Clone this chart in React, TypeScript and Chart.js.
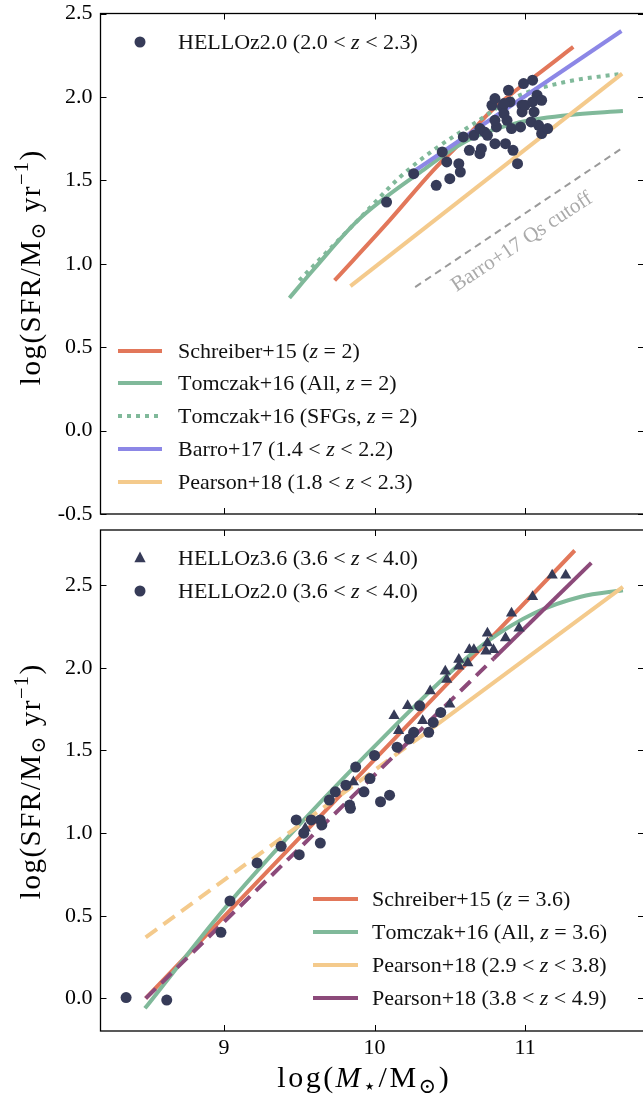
import React, { useEffect, useRef } from "react";
import { Chart, registerables } from "chart.js";
Chart.register(...registerables);

const SERIF = '"Liberation Serif", "DejaVu Serif", serif';
const C_ORANGE = "#E2775A";
const C_GREEN = "#80B99A";
const C_BLUE = "#8C87E6";
const C_YELLOW = "#F4CA8C";
const C_PURPLE = "#8C4A7A";
const C_DOT = "#363B58";
const C_GRAY = "#9a9a9a";

// ---- axes ----
const xMin = 8.18;
const xMax = 11.79;
const xTickValues = [9, 10, 11];
const topYMin = -0.5;
const topYMax = 2.5;
const topYTickValues = [-0.5, 0, 0.5, 1, 1.5, 2, 2.5];
const botYMin = -0.197;
const botYMax = 2.834;
const botYTickValues = [0, 0.5, 1, 1.5, 2, 2.5];

// ---- top panel (z~2) ----
const topDotsX = [10.08, 10.26, 10.41, 10.5, 10.48, 10.45, 10.57, 10.56, 10.59, 10.63, 10.66, 10.7, 10.71, 10.7, 10.73, 10.75, 10.8, 10.81, 10.8, 10.78, 10.8, 10.85, 10.86, 10.88, 10.87, 10.92, 10.89, 10.9, 10.91, 10.95, 10.97, 10.98, 10.99, 11.05, 10.98, 11.0, 11.04, 11.06, 11.05, 11.08, 11.11, 11.09, 11.11, 11.15, 10.86];
const topDotsY = [1.37, 1.54, 1.47, 1.51, 1.61, 1.67, 1.55, 1.6, 1.76, 1.68, 1.77, 1.66, 1.69, 1.81, 1.79, 1.77, 1.72, 1.82, 1.86, 1.95, 1.99, 1.94, 1.9, 1.86, 1.72, 1.68, 2.04, 1.97, 1.81, 1.6, 1.82, 1.95, 2.08, 2.1, 1.91, 1.95, 1.85, 1.91, 1.97, 2.01, 1.98, 1.83, 1.78, 1.81, 1.96];

const schreiber2X = [9.735, 10.1, 10.39, 10.61, 10.78, 10.94, 11.09, 11.32];
const schreiber2Y = [0.9, 1.26, 1.56, 1.76, 1.92, 2.04, 2.14, 2.3];
const tomczakAll2X = [9.435, 9.6, 9.89, 10.29, 10.62, 10.93, 11.28, 11.65];
const tomczakAll2Y = [0.795, 0.97, 1.26, 1.54, 1.74, 1.84, 1.89, 1.915];
const tomczakSfg2X = [9.5, 9.91, 10.17, 10.39, 10.66, 10.94, 11.27, 11.65];
const tomczakSfg2Y = [0.9, 1.28, 1.52, 1.68, 1.84, 2.0, 2.09, 2.14];
const barro2X = [10.265, 11.64];
const barro2Y = [1.556, 2.395];
const pearson2X = [9.84, 11.645];
const pearson2Y = [0.866, 2.14];
const cutoffX = [10.27, 11.64];
const cutoffY = [0.86, 1.69];

// ---- bottom panel (z~3.6) ----
const triX = [11.18, 11.27, 11.05, 10.91, 10.75, 10.87, 10.96, 10.63, 10.66, 10.75, 10.74, 10.79, 10.56, 10.62, 10.56, 10.47, 10.48, 10.37, 10.22, 10.13, 10.16, 10.32, 10.5, 9.54, 9.86];
const triY = [2.56, 2.56, 2.43, 2.33, 2.21, 2.18, 2.24, 2.11, 2.11, 2.15, 2.1, 2.11, 2.05, 2.03, 2.01, 1.98, 1.93, 1.86, 1.77, 1.71, 1.62, 1.68, 1.78, 1.03, 1.31];
const cirX = [9.04, 9.22, 9.38, 9.5, 9.48, 9.53, 9.58, 9.64, 9.65, 9.64, 9.7, 9.74, 9.81, 9.875, 9.835, 9.84, 9.93, 9.97, 10.0, 10.04, 10.1, 10.15, 10.3, 10.44, 10.39, 10.36, 10.26, 10.23, 8.35, 8.62, 8.98];
const cirY = [0.59, 0.82, 0.92, 0.87, 1.08, 1.0, 1.08, 1.08, 1.05, 0.94, 1.2, 1.25, 1.29, 1.4, 1.17, 1.15, 1.25, 1.33, 1.47, 1.19, 1.23, 1.52, 1.77, 1.73, 1.67, 1.61, 1.61, 1.57, 0.005, -0.01, 0.4];

const schreiber36X = [8.48, 9.5, 10.5, 11.33];
const schreiber36Y = [0.0, 0.97, 1.92, 2.71];
const tomczak36X = [8.475, 9.0, 9.5, 10.13, 10.5, 10.75, 11.06, 11.37, 11.65];
const tomczak36Y = [-0.06, 0.54, 1.05, 1.644, 1.97, 2.16, 2.33, 2.43, 2.47];
const pearsonA36DashX = [8.48, 10.3];
const pearsonA36DashY = [0.37, 1.58];
const pearsonA36X = [10.3, 11.65];
const pearsonA36Y = [1.58, 2.49];
const pearsonB36DashX = [8.48, 10.79];
const pearsonB36DashY = [0.0, 2.055];
const pearsonB36X = [10.79, 11.44];
const pearsonB36Y = [2.055, 2.635];

type Seg = { t: string; it?: boolean; sub?: boolean; sup?: boolean };

const pts = (xs: number[], ys: number[]) => xs.map((x, i) => ({ x, y: ys[i] }));

function fontStr(size: number, it?: boolean) {
  return `${it ? "italic " : ""}${size}px ${SERIF}`;
}

function richWidth(ctx: CanvasRenderingContext2D, segs: Seg[], size: number, ls = 0) {
  let w = 0;
  for (const s of segs) {
    const fs = s.sub || s.sup ? size * 0.7 : size;
    ctx.font = fontStr(fs, s.it);
    for (const ch of s.t) w += ctx.measureText(ch).width + ls;
  }
  return w - ls;
}

function drawRich(ctx: CanvasRenderingContext2D, x: number, yMid: number, segs: Seg[], size: number, color: string, align: "left" | "center" = "left", ls = 0) {
  ctx.save();
  ctx.fillStyle = color;
  ctx.textBaseline = "alphabetic";
  ctx.textAlign = "left";
  const w = richWidth(ctx, segs, size, ls);
  let cx = align === "center" ? x - w / 2 : x;
  const base = yMid + size * 0.33;
  for (const s of segs) {
    const fs = s.sub || s.sup ? size * 0.7 : size;
    ctx.font = fontStr(fs, s.it);
    const dy = s.sub ? size * 0.2 : s.sup ? -size * 0.4 : 0;
    for (const ch of s.t) {
      ctx.fillText(ch, cx, base + dy);
      cx += ctx.measureText(ch).width + ls;
    }
  }
  ctx.restore();
}

function drawMarker(ctx: CanvasRenderingContext2D, kind: "circle" | "triangle", x: number, y: number) {
  ctx.save();
  ctx.fillStyle = C_DOT;
  ctx.beginPath();
  if (kind === "circle") {
    ctx.arc(x, y, 5.5, 0, Math.PI * 2);
  } else {
    const r = 6.5;
    ctx.moveTo(x, y - r);
    ctx.lineTo(x + r * 0.866, y + r * 0.5 + 1);
    ctx.lineTo(x - r * 0.866, y + r * 0.5 + 1);
    ctx.closePath();
  }
  ctx.fill();
  ctx.restore();
}

function drawHandle(ctx: CanvasRenderingContext2D, x1: number, x2: number, y: number, color: string, dash: number[] = []) {
  ctx.save();
  ctx.strokeStyle = color;
  ctx.lineWidth = 4;
  ctx.lineCap = "butt";
  ctx.setLineDash(dash);
  ctx.beginPath();
  ctx.moveTo(x1, y);
  ctx.lineTo(x2, y);
  ctx.stroke();
  ctx.restore();
}

const ylabelSegs: Seg[] = [{ t: "log(SFR/M" }, { t: "⊙", sub: true }, { t: " yr" }, { t: "−1", sup: true }, { t: ")" }];
const xlabelSegs: Seg[] = [{ t: "log(" }, { t: "M", it: true }, { t: "⋆", sub: true }, { t: "/M" }, { t: "⊙", sub: true }, { t: ")" }];

function drawYLabel(ctx: CanvasRenderingContext2D, x: number, yMid: number) {
  ctx.save();
  ctx.translate(x, yMid);
  ctx.rotate(-Math.PI / 2);
  drawRich(ctx, 0, 0, ylabelSegs, 29, "#000", "center", 1.5);
  ctx.restore();
}

function framePlugin(yTicks: number[]) {
  return {
    id: "frame",
    afterDraw(chart: any) {
      const { ctx, chartArea: a } = chart;
      const xs = chart.scales.x;
      const ys = chart.scales.y;
      ctx.save();
      ctx.strokeStyle = "#000";
      ctx.lineWidth = 1.3;
      ctx.strokeRect(a.left, a.top, a.right - a.left, a.bottom - a.top);
      ctx.lineWidth = 1;
      ctx.beginPath();
      const L = 6;
      for (const v of xTickValues) {
        const p = Math.round(xs.getPixelForValue(v)) + 0.5;
        ctx.moveTo(p, a.bottom);
        ctx.lineTo(p, a.bottom - L);
        ctx.moveTo(p, a.top);
        ctx.lineTo(p, a.top + L);
      }
      for (const v of yTicks) {
        const p = Math.round(ys.getPixelForValue(v)) + 0.5;
        ctx.moveTo(a.left, p);
        ctx.lineTo(a.left + L, p);
        ctx.moveTo(a.right, p);
        ctx.lineTo(a.right - L, p);
      }
      ctx.stroke();
      ctx.restore();
    },
  };
}

function scales(yMin: number, yMax: number, yTicks: number[], showX: boolean, xHeight: number) {
  return {
    x: {
      type: "linear",
      min: xMin,
      max: xMax,
      afterBuildTicks: (s: any) => {
        s.ticks = xTickValues.map((v) => ({ value: v }));
      },
      afterFit: (s: any) => {
        s.height = xHeight;
        s.paddingLeft = 0;
        s.paddingRight = 0;
      },
      grid: { display: false, drawTicks: false },
      border: { display: false },
      ticks: {
        display: showX,
        padding: 4,
        color: "#000",
        font: { family: SERIF, size: 22 },
        callback: (v: any) => String(v),
      },
    },
    y: {
      type: "linear",
      min: yMin,
      max: yMax,
      afterBuildTicks: (s: any) => {
        s.ticks = yTicks.map((v) => ({ value: v }));
      },
      afterFit: (s: any) => {
        s.width = 100.5;
        s.paddingTop = 0;
        s.paddingBottom = 0;
      },
      grid: { display: false, drawTicks: false },
      border: { display: false },
      ticks: {
        padding: 8,
        color: "#000",
        font: { family: SERIF, size: 22 },
        callback: (v: any) => Number(v).toFixed(1),
      },
    },
  };
}

const lineDs = (xs: number[], ys: number[], color: string, order: number, extra: any = {}) => ({
  data: pts(xs, ys),
  showLine: true,
  borderColor: color,
  backgroundColor: color,
  borderWidth: 4,
  borderCapStyle: "butt",
  pointRadius: 0,
  pointHoverRadius: 0,
  fill: false,
  order,
  ...extra,
});

const curve = { cubicInterpolationMode: "monotone" };

function topConfig(): any {
  return {
    type: "scatter",
    data: {
      datasets: [
        { data: pts(topDotsX, topDotsY), pointStyle: "circle", pointRadius: 5.5, backgroundColor: C_DOT, borderWidth: 0, order: 0 },
        lineDs(cutoffX, cutoffY, C_GRAY, 9, { borderWidth: 2, borderDash: [7, 5] }),
        lineDs(schreiber2X, schreiber2Y, C_ORANGE, 7, curve),
        lineDs(tomczakAll2X, tomczakAll2Y, C_GREEN, 6, curve),
        lineDs(tomczakSfg2X, tomczakSfg2Y, C_GREEN, 5, { ...curve, borderDash: [4, 5] }),
        lineDs(barro2X, barro2Y, C_BLUE, 4),
        lineDs(pearson2X, pearson2Y, C_YELLOW, 3),
      ],
    },
    options: {
      animation: false,
      responsive: false,
      devicePixelRatio: 1,
      events: [],
      layout: { padding: { top: 13.5, left: 0, right: 16, bottom: 0 } },
      plugins: { legend: { display: false }, tooltip: { enabled: false } },
      scales: scales(topYMin, topYMax, topYTickValues, false, 8),
    },
    plugins: [
      framePlugin(topYTickValues),
      {
        id: "overlayTop",
        afterDraw(chart: any) {
          const ctx = chart.ctx as CanvasRenderingContext2D;
          drawMarker(ctx, "circle", 140, 42);
          drawRich(ctx, 178, 42, [{ t: "HELLOz2.0 (2.0 < " }, { t: "z", it: true }, { t: " < 2.3)" }], 22, "#111");
          const rows: [number, string, number[], Seg[]][] = [
            [351, C_ORANGE, [], [{ t: "Schreiber+15 (" }, { t: "z", it: true }, { t: " = 2)" }]],
            [383, C_GREEN, [], [{ t: "Tomczak+16 (All, " }, { t: "z", it: true }, { t: " = 2)" }]],
            [416, C_GREEN, [4, 5], [{ t: "Tomczak+16 (SFGs, " }, { t: "z", it: true }, { t: " = 2)" }]],
            [449, C_BLUE, [], [{ t: "Barro+17 (1.4 < " }, { t: "z", it: true }, { t: " < 2.2)" }]],
            [482, C_YELLOW, [], [{ t: "Pearson+18 (1.8 < " }, { t: "z", it: true }, { t: " < 2.3)" }]],
          ];
          for (const [y, col, dash, segs] of rows) {
            drawHandle(ctx, 118, 162, y, col, dash);
            drawRich(ctx, 178, y, segs, 22, "#111");
          }
          ctx.save();
          ctx.translate(522, 242);
          ctx.rotate((-33.5 * Math.PI) / 180);
          ctx.font = `21px ${SERIF}`;
          ctx.fillStyle = "#aaaaaa";
          ctx.textAlign = "center";
          ctx.textBaseline = "middle";
          ctx.fillText("Barro+17 Qs cutoff", 0, 0);
          ctx.restore();
          drawYLabel(ctx, 30, 268);
        },
      },
    ],
  };
}

function botConfig(): any {
  const OFF = 522;
  return {
    type: "scatter",
    data: {
      datasets: [
        { data: pts(triX, triY), pointStyle: "triangle", pointRadius: 6.5, backgroundColor: C_DOT, borderWidth: 0, order: 0 },
        { data: pts(cirX, cirY), pointStyle: "circle", pointRadius: 5.5, backgroundColor: C_DOT, borderWidth: 0, order: 0 },
        lineDs(schreiber36X, schreiber36Y, C_ORANGE, 7),
        lineDs(tomczak36X, tomczak36Y, C_GREEN, 6, curve),
        lineDs(pearsonA36DashX, pearsonA36DashY, C_YELLOW, 5, { borderDash: [14, 8] }),
        lineDs(pearsonA36X, pearsonA36Y, C_YELLOW, 5),
        lineDs(pearsonB36DashX, pearsonB36DashY, C_PURPLE, 4, { borderDash: [14, 8] }),
        lineDs(pearsonB36X, pearsonB36Y, C_PURPLE, 4),
      ],
    },
    options: {
      animation: false,
      responsive: false,
      devicePixelRatio: 1,
      events: [],
      layout: { padding: { top: 8, left: 0, right: 16, bottom: 0 } },
      plugins: { legend: { display: false }, tooltip: { enabled: false } },
      scales: scales(botYMin, botYMax, botYTickValues, true, 66),
    },
    plugins: [
      framePlugin(botYTickValues),
      {
        id: "overlayBot",
        afterDraw(chart: any) {
          const ctx = chart.ctx as CanvasRenderingContext2D;
          drawMarker(ctx, "triangle", 140, 558 - OFF);
          drawRich(ctx, 178, 558 - OFF, [{ t: "HELLOz3.6 (3.6 < " }, { t: "z", it: true }, { t: " < 4.0)" }], 22, "#111");
          drawMarker(ctx, "circle", 140, 591 - OFF);
          drawRich(ctx, 178, 591 - OFF, [{ t: "HELLOz2.0 (3.6 < " }, { t: "z", it: true }, { t: " < 4.0)" }], 22, "#111");
          const rows: [number, string, Seg[]][] = [
            [899, C_ORANGE, [{ t: "Schreiber+15 (" }, { t: "z", it: true }, { t: " = 3.6)" }]],
            [932, C_GREEN, [{ t: "Tomczak+16 (All, " }, { t: "z", it: true }, { t: " = 3.6)" }]],
            [965, C_YELLOW, [{ t: "Pearson+18 (2.9 < " }, { t: "z", it: true }, { t: " < 3.8)" }]],
            [998, C_PURPLE, [{ t: "Pearson+18 (3.8 < " }, { t: "z", it: true }, { t: " < 4.9)" }]],
          ];
          for (const [y, col, segs] of rows) {
            drawHandle(ctx, 313, 358, y - OFF, col);
            drawRich(ctx, 372, y - OFF, segs, 22, "#111");
          }
          drawYLabel(ctx, 30, 782 - OFF);
          drawRich(ctx, 363, 1077 - OFF, xlabelSegs, 30, "#000", "center", 2.5);
        },
      },
    ],
  };
}

export default function App() {
  const topRef = useRef<HTMLCanvasElement>(null);
  const botRef = useRef<HTMLCanvasElement>(null);
  useEffect(() => {
    const c1 = new Chart(topRef.current as HTMLCanvasElement, topConfig());
    const c2 = new Chart(botRef.current as HTMLCanvasElement, botConfig());
    return () => {
      c1.destroy();
      c2.destroy();
    };
  }, []);
  return (
    <div style={{ position: "absolute", left: 0, top: 0, width: 643, height: 1097, overflow: "hidden", background: "#fff" }}>
      <canvas ref={topRef} width={660} height={522} style={{ position: "absolute", left: 0, top: 0, width: 660, height: 522 }} />
      <canvas ref={botRef} width={660} height={575} style={{ position: "absolute", left: 0, top: 522, width: 660, height: 575 }} />
    </div>
  );
}
